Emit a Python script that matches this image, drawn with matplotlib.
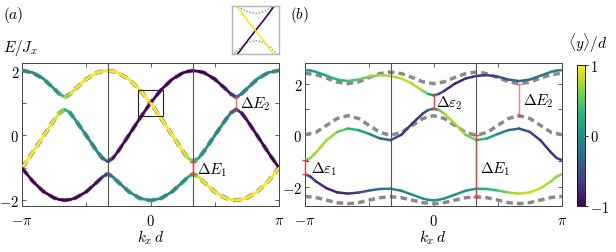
import numpy as np
import matplotlib
matplotlib.use('Agg')
import matplotlib.pyplot as plt
from matplotlib.collections import LineCollection
from matplotlib.colors import Normalize
from matplotlib.patches import Rectangle
from matplotlib.cm import ScalarMappable

plt.rcParams['mathtext.fontset'] = 'cm'
plt.rcParams['font.family'] = 'DejaVu Serif'

# ---------------- panel (a) ----------------
# k_x d in units of pi/24; k = 0 is listed twice because two bands cross there
ka_idx = [-24, -22, -20, -18, -17, -16, -15, -14, -12, -10, -9, -8, -7, -6, -4, -2, 0,
          0, 2, 4, 6, 7, 8, 9, 10, 12, 14, 15, 16, 17, 18, 20, 22, 24]
top_a = [2.02, 1.95, 1.76, 1.45, 1.29, 1.19, 1.29, 1.45, 1.75, 1.95, 1.99, 2.01, 1.99, 1.94, 1.74, 1.42, 1.01,
         1.01, 1.42, 1.74, 1.94, 1.99, 2.01, 1.99, 1.95, 1.75, 1.45, 1.29, 1.19, 1.29, 1.45, 1.76, 1.95, 2.02]
mid_a = [-1.01, -0.53, -0.02, 0.48, 0.70, 0.81, 0.70, 0.48, 0.00, -0.49, -0.70, -0.81, -0.70, -0.48, 0.02, 0.53, 1.01,
         1.01, 0.53, 0.02, -0.48, -0.70, -0.81, -0.70, -0.49, 0.00, 0.48, 0.70, 0.81, 0.70, 0.48, -0.02, -0.53, -1.01]
bot_a = [-1.01, -1.42, -1.74, -1.94, -1.99, -2.01, -1.99, -1.94, -1.75, -1.45, -1.29, -1.19, -1.29, -1.45, -1.75, -1.95, -2.02,
         -2.02, -1.95, -1.75, -1.45, -1.29, -1.19, -1.29, -1.45, -1.75, -1.94, -1.99, -2.01, -1.99, -1.94, -1.74, -1.42, -1.01]
# <y>/d along each band
top_a_y = [0, 0, 0.01, 0.04, 0.12, 0.5, 0.88, 0.96, 0.99, 1, 1, 1, 1, 1, 1, 1, 1,
           -1, -1, -1, -1, -1, -1, -1, -1, -0.99, -0.96, -0.88, -0.5, -0.12, -0.04, -0.01, 0, 0]
mid_a_y = [1, 0.99, 0.99, 0.96, 0.88, 0.5, 0.12, 0.04, 0, -0.04, -0.12, -0.5, -0.88, -0.96, -0.99, -1, -1,
           1, 1, 0.99, 0.96, 0.88, 0.5, 0.12, 0.04, 0, -0.04, -0.12, -0.5, -0.88, -0.96, -0.99, -0.99, -1]
bot_a_y = [-1, -1, -0.99, -1, -1, -1, -1, -1, -0.99, -0.96, -0.88, -0.5, -0.12, -0.04, -0.01, 0, 0,
           0, 0, 0.01, 0.04, 0.12, 0.5, 0.88, 0.96, 0.99, 1, 1, 1, 1, 1, 0.99, 1, 1]

# gaps: (k_x d, lower E, upper E)
gap_a_E1 = (np.pi / 3, -1.19, -0.81)
gap_a_E2 = (2 * np.pi / 3, 0.81, 1.19)

# inset (zoom of the box around k = 0, E = 1)
k_in = [-0.3, -0.2, -0.1, 0, 0.1, 0.2, 0.3]
in_purple = [0.48, 0.65, 0.83, 1.0, 1.17, 1.35, 1.52]
in_yellow = [1.52, 1.35, 1.17, 1.0, 0.83, 0.65, 0.48]
in_dot_up = [1.45, 1.39, 1.32, 1.29, 1.32, 1.39, 1.45]
in_dot_lo = [0.57, 0.70, 0.80, 0.83, 0.80, 0.70, 0.57]

# ---------------- panel (b) ----------------
kb_idx = [-24, -23, -22, -20, -18, -16, -14, -12, -10, -8, -6, -4, -2, -1, 0,
          1, 2, 4, 6, 8, 10, 12, 14, 16, 18, 20, 22, 23, 24]
top_b = [2.52, 2.51, 2.46, 2.31, 2.16, 2.10, 2.16, 2.27, 2.33, 2.30, 2.20, 2.00, 1.72, 1.60, 1.55,
         1.60, 1.72, 2.00, 2.20, 2.30, 2.33, 2.27, 2.16, 2.10, 2.16, 2.31, 2.46, 2.51, 2.52]
mid_b = [-0.97, -0.88, -0.68, -0.20, 0.13, 0.26, 0.20, 0.05, -0.12, -0.19, 0.02, 0.45, 0.84, 0.98, 1.03,
         0.98, 0.84, 0.45, 0.02, -0.19, -0.12, 0.05, 0.20, 0.26, 0.13, -0.20, -0.68, -0.88, -0.97]
bot_b = [-1.51, -1.60, -1.78, -2.05, -2.21, -2.26, -2.22, -2.14, -2.08, -2.07, -2.15, -2.30, -2.45, -2.50, -2.52,
         -2.50, -2.45, -2.30, -2.15, -2.07, -2.08, -2.14, -2.22, -2.26, -2.21, -2.05, -1.78, -1.60, -1.51]
top_b_y = [0.05, 0.07, 0.12, 0.22, 0.30, 0.35, 0.45, 0.60, 0.70, 0.75, 0.80, 0.82, 0.70, 0.45, 0.0,
           -0.45, -0.70, -0.82, -0.80, -0.75, -0.70, -0.60, -0.45, -0.35, -0.30, -0.22, -0.12, -0.07, -0.05]
mid_b_y = [0.60, 0.65, 0.70, 0.75, 0.60, 0.40, 0.20, 0.0, -0.25, -0.45, -0.65, -0.80, -0.70, -0.45, 0.0,
           0.45, 0.70, 0.80, 0.65, 0.45, 0.25, 0.0, -0.20, -0.40, -0.60, -0.75, -0.70, -0.65, -0.60]
bot_b_y = [-0.60, -0.65, -0.70, -0.80, -0.85, -0.80, -0.60, -0.40, -0.25, -0.10, -0.05, -0.03, 0.0, 0.0, 0.0,
           0.0, 0.0, 0.03, 0.05, 0.10, 0.25, 0.40, 0.60, 0.80, 0.85, 0.80, 0.70, 0.65, 0.60]

# uncoupled bands of (b) (gray dashed), k in units of pi/12
kd_idx = list(range(-12, 13))
dash_b1 = [2.40, 2.35, 2.22, 2.06, 2.00, 2.07, 2.24, 2.39, 2.45, 2.39, 2.24, 2.07, 2.00,
           2.07, 2.24, 2.39, 2.45, 2.39, 2.24, 2.07, 2.00, 2.06, 2.22, 2.35, 2.40]
dash_b2 = [0.02, 0.11, 0.38, 0.65, 0.76, 0.65, 0.38, 0.11, 0.0, 0.11, 0.38, 0.65, 0.76,
           0.65, 0.38, 0.11, 0.0, 0.11, 0.38, 0.65, 0.76, 0.65, 0.38, 0.11, 0.02]
dash_b3 = [-2.37, -2.41, -2.51, -2.61, -2.65, -2.61, -2.51, -2.42, -2.38, -2.42, -2.51, -2.61, -2.65,
           -2.61, -2.51, -2.42, -2.38, -2.42, -2.51, -2.61, -2.65, -2.61, -2.51, -2.41, -2.37]

gap_b_e1 = (-np.pi, -1.51, -0.97)
gap_b_e2 = (0.0, 1.03, 1.55)
gap_b_E1 = (np.pi / 3, -2.38, 0.0)
gap_b_E2 = (2 * np.pi / 3, 0.76, 2.0)

# ---------------- drawing ----------------
W, H = 616, 253
norm = Normalize(-1, 1)
cmap = plt.get_cmap('viridis')
RED = '#e8383d'


def fx(x, y):
    # pixel position -> figure fraction
    return x / W, 1 - y / H


def band(ax, k, e, yv, lw):
    pts = np.column_stack([k, e])
    segs = np.stack([pts[:-1], pts[1:]], axis=1)
    yv = np.asarray(yv, float)
    cseg = 0.5 * (yv[:-1] + yv[1:])
    keep = np.diff(k) > 0
    lc = LineCollection(segs[keep], colors=cmap(norm(cseg[keep])), linewidths=lw,
                        capstyle='round', zorder=3)
    ax.add_collection(lc)


def gap(ax, g, alpha=1.0):
    k, e1, e2 = g
    ax.plot([k, k], [e1, e2], color=RED, lw=1.0, alpha=alpha, zorder=5, clip_on=False)
    ax.plot([k, k], [e1, e2], ls='none', marker='_', ms=4, mew=1.0, color=RED,
            alpha=alpha, zorder=5, clip_on=False)


def style(ax, ylim):
    ax.set_xlim(-np.pi, np.pi)
    ax.set_ylim(*ylim)
    ax.set_xticks([-np.pi, 0, np.pi])
    ax.set_xticklabels([r'$-\pi$', r'$0$', r'$\pi$'])
    ax.set_xticks([-np.pi / 2, np.pi / 2], minor=True)
    ax.set_yticks([-2, 0, 2])
    ax.set_yticklabels([r'$-2$', r'$0$', r'$2$'])
    ax.set_yticks([-1, 1], minor=True)
    ax.tick_params(which='both', direction='in', top=True, right=True, length=3,
                   width=0.6, color='#444444', labelsize=10.5)
    ax.tick_params(axis='x', pad=5)
    ax.tick_params(axis='y', pad=2)
    for s in ax.spines.values():
        s.set_linewidth(0.7)
        s.set_color('#444444')
    for kv in (-np.pi / 3, np.pi / 3):
        ax.axvline(kv, color='#555555', lw=0.8, zorder=4)


fig = plt.figure(figsize=(W / 100, H / 100), dpi=100)

ax_a = fig.add_axes([22 / W, 1 - 207 / H, 257 / W, 143 / H])
ax_b = fig.add_axes([305 / W, 1 - 207 / H, 257 / W, 143 / H])
cax = fig.add_axes([577 / W, 1 - 207 / H, 8 / W, 141 / H])
ax_in = fig.add_axes([232 / W, 1 - 55 / H, 47 / W, 48 / H])

ka = np.array(ka_idx) * np.pi / 24
kb = np.array(kb_idx) * np.pi / 24
kd = np.array(kd_idx) * np.pi / 12

dash_kw = dict(color='#8a8a8a', ls=(0, (1.9, 1.2)), zorder=2)

# panel (a): gray dashed numerics sit right under the colored bands
for e in (top_a, mid_a, bot_a):
    ax_a.plot(ka, e, lw=3.0, **dash_kw)
band(ax_a, ka, top_a, top_a_y, 2.0)
band(ax_a, ka, mid_a, mid_a_y, 2.0)
band(ax_a, ka, bot_a, bot_a_y, 2.0)
style(ax_a, (-2.19, 2.25))
gap(ax_a, gap_a_E1)
gap(ax_a, gap_a_E2, alpha=0.7)
ax_a.text(gap_a_E1[0] + 0.09, -1.04, r'$\Delta E_1$', fontsize=11, ha='left', va='center')
ax_a.text(gap_a_E2[0] + 0.10, 1.0, r'$\Delta E_2$', fontsize=11, ha='left', va='center')
ax_a.add_patch(Rectangle((k_in[0], 0.6), k_in[-1] - k_in[0], 0.82, fill=False,
                         ec='#222222', lw=0.8, zorder=6))

# inset
ax_in.plot(k_in, in_dot_up, color='#8a8a8a', lw=1.0, ls=(0, (1, 1.3)))
ax_in.plot(k_in, in_dot_lo, color='#8a8a8a', lw=1.0, ls=(0, (1, 1.3)))
ax_in.plot(k_in, in_purple, color=cmap(0.0), lw=1.2)
ax_in.plot(k_in, in_yellow, color=cmap(1.0), lw=1.2)
ax_in.set_xlim(k_in[0], k_in[-1])
ax_in.set_ylim(0.6, 1.42)
ax_in.set_xticks([])
ax_in.set_yticks([])
for s in ax_in.spines.values():
    s.set_color('#b5b5b5')
    s.set_linewidth(1.0)

# panel (b)
for d in (dash_b1, dash_b2, dash_b3):
    ax_b.plot(kd, d, lw=2.5, **dash_kw)
band(ax_b, kb, top_b, top_b_y, 1.8)
band(ax_b, kb, mid_b, mid_b_y, 1.8)
band(ax_b, kb, bot_b, bot_b_y, 1.8)
style(ax_b, (-2.74, 2.80))
gap(ax_b, gap_b_e1)
gap(ax_b, gap_b_e2)
gap(ax_b, gap_b_E1)
gap(ax_b, gap_b_E2, alpha=0.6)
ax_b.text(gap_b_e1[0] + 0.14, -1.29, r'$\Delta\varepsilon_1$', fontsize=11, ha='left', va='center')
ax_b.text(gap_b_e2[0] + 0.05, 1.29, r'$\Delta\varepsilon_2$', fontsize=11, ha='left', va='center')
ax_b.text(gap_b_E1[0] + 0.08, -1.29, r'$\Delta E_1$', fontsize=11, ha='left', va='center')
ax_b.text(gap_b_E2[0] + 0.09, 1.36, r'$\Delta E_2$', fontsize=11, ha='left', va='center')

# colorbar
cb = fig.colorbar(ScalarMappable(norm=norm, cmap=cmap), cax=cax)
cb.set_ticks([-1, 0, 1])
cb.set_ticklabels([r'$-1$', r'$0$', r'$1$'])
cb.ax.tick_params(length=2.5, width=0.6, labelsize=10.5, pad=1)
cb.outline.set_linewidth(0.6)

# labels
fig.text(*fx(3, 48), r'$E/J_x$', fontsize=11, ha='left', va='center')
fig.text(*fx(151, 238), r'$k_x\,d$', fontsize=11, ha='center', va='center')
fig.text(*fx(433, 238), r'$k_x\,d$', fontsize=11, ha='center', va='center')
fig.text(*fx(3, 15), r'$(a)$', fontsize=11, ha='left', va='center')
fig.text(*fx(290, 15), r'$(b)$', fontsize=11, ha='left', va='center')
fig.text(*fx(588, 43), r'$\langle y\rangle/d$', fontsize=11, ha='center', va='center')

fig.savefig('out.png', dpi=100)
